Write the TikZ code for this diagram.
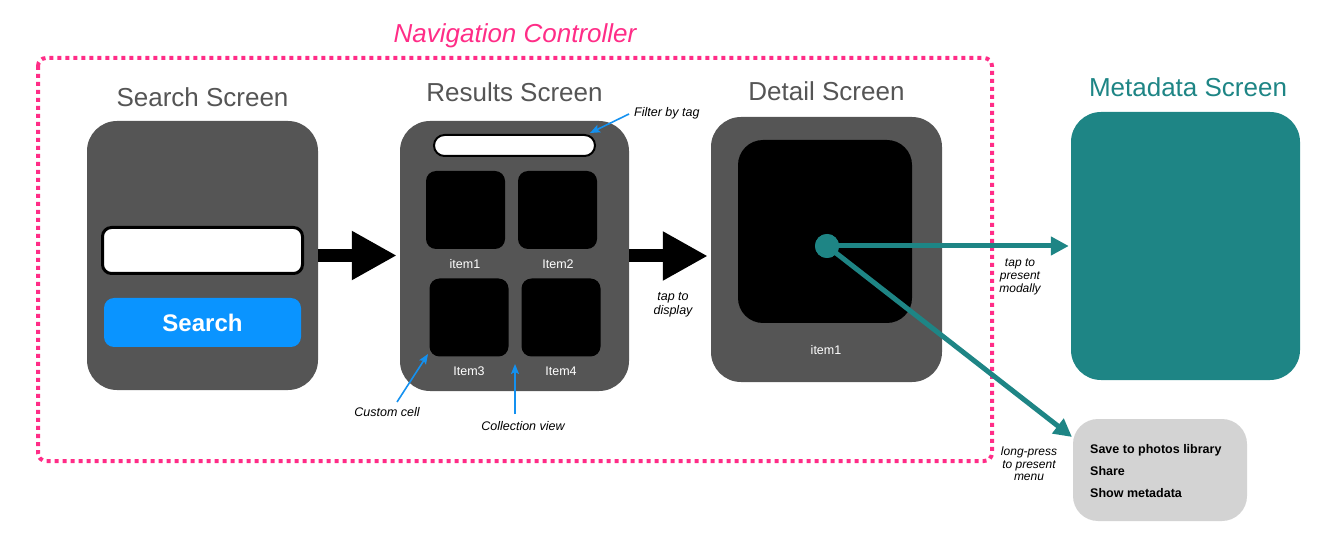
\documentclass[tikz,border=0pt]{standalone}
\usepackage{fontspec}
\setmainfont{Liberation Sans}
\usetikzlibrary{arrows.meta}
\definecolor{pinkc}{RGB}{255,45,135}
\definecolor{tealc}{RGB}{30,133,133}
\definecolor{screengray}{RGB}{85,85,85}
\definecolor{titlegray}{RGB}{85,85,85}
\definecolor{btnblue}{RGB}{10,148,255}
\definecolor{annblue}{RGB}{20,145,240}
\definecolor{menugray}{RGB}{211,211,211}
\begin{document}
\begin{tikzpicture}[x=1pt,y=-1pt,
  screenbox/.style={rectangle, fill=screengray, rounded corners=30pt, inner sep=0pt},
  cellbox/.style={rectangle, fill=black, rounded corners=10pt, inner sep=0pt, minimum width=79pt, minimum height=78pt},
  celllabel/.style={text=white, font=\fontsize{12.5}{14}\selectfont, inner sep=0pt},
  titletext/.style={text=titlegray, font=\fontsize{26}{30}\selectfont, anchor=base, inner sep=0pt},
  smallnote/.style={font=\fontsize{12.5}{14}\selectfont\itshape, align=center, inner sep=0pt},
  fatarrow/.style={line width=13pt, -{Triangle[length=45pt,width=46pt]}},
  tealarrow/.style={tealc, line width=5pt, -{Triangle[length=18pt,width=18pt]}},
  annarrow/.style={annblue, line width=1.6pt, -{Stealth[length=10pt,width=8pt,inset=2pt]}},
  menutext/.style={font=\fontsize{12.5}{14}\selectfont\bfseries, anchor=base west, inner sep=0pt}
]
\useasboundingbox (0,0) rectangle (1323,553);

% navigation controller frame
\draw[pinkc, line width=4pt, dash pattern=on 4pt off 4pt, rounded corners=8pt] (38,58) rectangle (992,461);
\node[text=pinkc, font=\fontsize{26}{30}\selectfont\itshape, anchor=base, inner sep=0pt] (navtitle) at (515,43) {Navigation Controller};

% search screen
\node[titletext] (searchtitle) at (202.5,107) {Search Screen};
\node[screenbox, minimum width=231pt, minimum height=269pt] (search) at (202.5,255.5) {};
\node[rectangle, fill=white, draw=black, line width=3pt, rounded corners=9pt, inner sep=0pt, minimum width=200pt, minimum height=46pt] (field) at (202.5,250.5) {};
\node[rectangle, fill=btnblue, rounded corners=10pt, inner sep=0pt, minimum width=197pt, minimum height=49pt, text=white, font=\fontsize{24}{28}\selectfont\bfseries] (btn) at (202.5,322.5) {Search};

% results screen
\node[titletext] (resultstitle) at (514.5,102) {Results Screen};
\node[screenbox, minimum width=229pt, minimum height=270pt] (results) at (514.5,256) {};
\node[rectangle, fill=white, draw=black, line width=2pt, rounded corners=10.5pt, inner sep=0pt, minimum width=161pt, minimum height=21pt] (filter) at (514.5,145.5) {};
\node[cellbox] (cell1) at (465.5,210) {};
\node[cellbox] (cell2) at (557.5,210) {};
\node[cellbox] (cell3) at (469,317.5) {};
\node[cellbox] (cell4) at (561,317.5) {};
\node[celllabel] (l1) at (465,264) {item1};
\node[celllabel] (l2) at (558,264) {Item2};
\node[celllabel] (l3) at (469,371) {Item3};
\node[celllabel] (l4) at (561,371) {Item4};

% detail screen
\node[titletext] (detailtitle) at (826.5,101) {Detail Screen};
\node[screenbox, minimum width=231pt, minimum height=265pt] (detail) at (826.5,249.5) {};
\node[rectangle, fill=black, rounded corners=25pt, inner sep=0pt, minimum width=174pt, minimum height=183pt] (image) at (825,231.5) {};
\node[celllabel] (dl) at (826,350) {item1};

% metadata screen
\node[text=tealc, font=\fontsize{26}{30}\selectfont, anchor=base, inner sep=0pt] (metatitle) at (1188,97) {Metadata Screen};
\node[rectangle, fill=tealc, rounded corners=30pt, inner sep=0pt, minimum width=229pt, minimum height=268pt] (meta) at (1185.5,246) {};

% menu
\node[rectangle, fill=menugray, rounded corners=25pt, inner sep=0pt, minimum width=174pt, minimum height=102pt] (menu) at (1160,470) {};
\node[menutext] (m1) at (1090,453) {Save to photos library};
\node[menutext] (m2) at (1090,475) {Share};
\node[menutext] (m3) at (1090,497) {Show metadata};

% fat arrows
\draw[fatarrow, shorten >=3pt] (search.east) -- (results.west |- search.east);
\draw[fatarrow, shorten >=3pt] (results.east) -- (results.east -| detail.west);
\node[smallnote] (tapdisplay) at (673,305) {tap to\\display};

% teal arrows
\node[circle, fill=tealc, inner sep=0pt, minimum size=24pt] (dot) at (827,246) {};
\coordinate (menutip) at (1072,437);
\draw[tealarrow, shorten >=2pt] (dot.center) -- (meta.west);
\draw[tealarrow] (dot.center) -- (menutip);
\node[circle, fill=tealc, inner sep=0pt, minimum size=24pt] (dot2) at (dot.center) {};
\node[smallnote, font=\fontsize{12}{13}\selectfont\itshape] (tapmodal) at (1020,277) {tap to\\present\\modally};
\node[smallnote, font=\fontsize{12}{12.5}\selectfont\itshape] (longpress) at (1029,464) {long-press\\to present\\menu};

% annotations
\node[smallnote, anchor=west] (filtertxt) at (634,113) {Filter by tag};
\coordinate (filtertip) at (590,133);
\coordinate (filterstart) at (629,114);
\draw[annarrow] (filterstart) -- (filtertip);
\node[smallnote] (customtxt) at (387,412) {Custom cell};
\coordinate (customtip) at (428,354);
\coordinate (customstart) at (397,402);
\draw[annarrow] (customstart) -- (customtip);
\node[smallnote] (colltxt) at (523,426) {Collection view};
\coordinate (colltip) at (515,364);
\coordinate (collstart) at (515,414);
\draw[annarrow] (collstart) -- (colltip);
\end{tikzpicture}
\end{document}
